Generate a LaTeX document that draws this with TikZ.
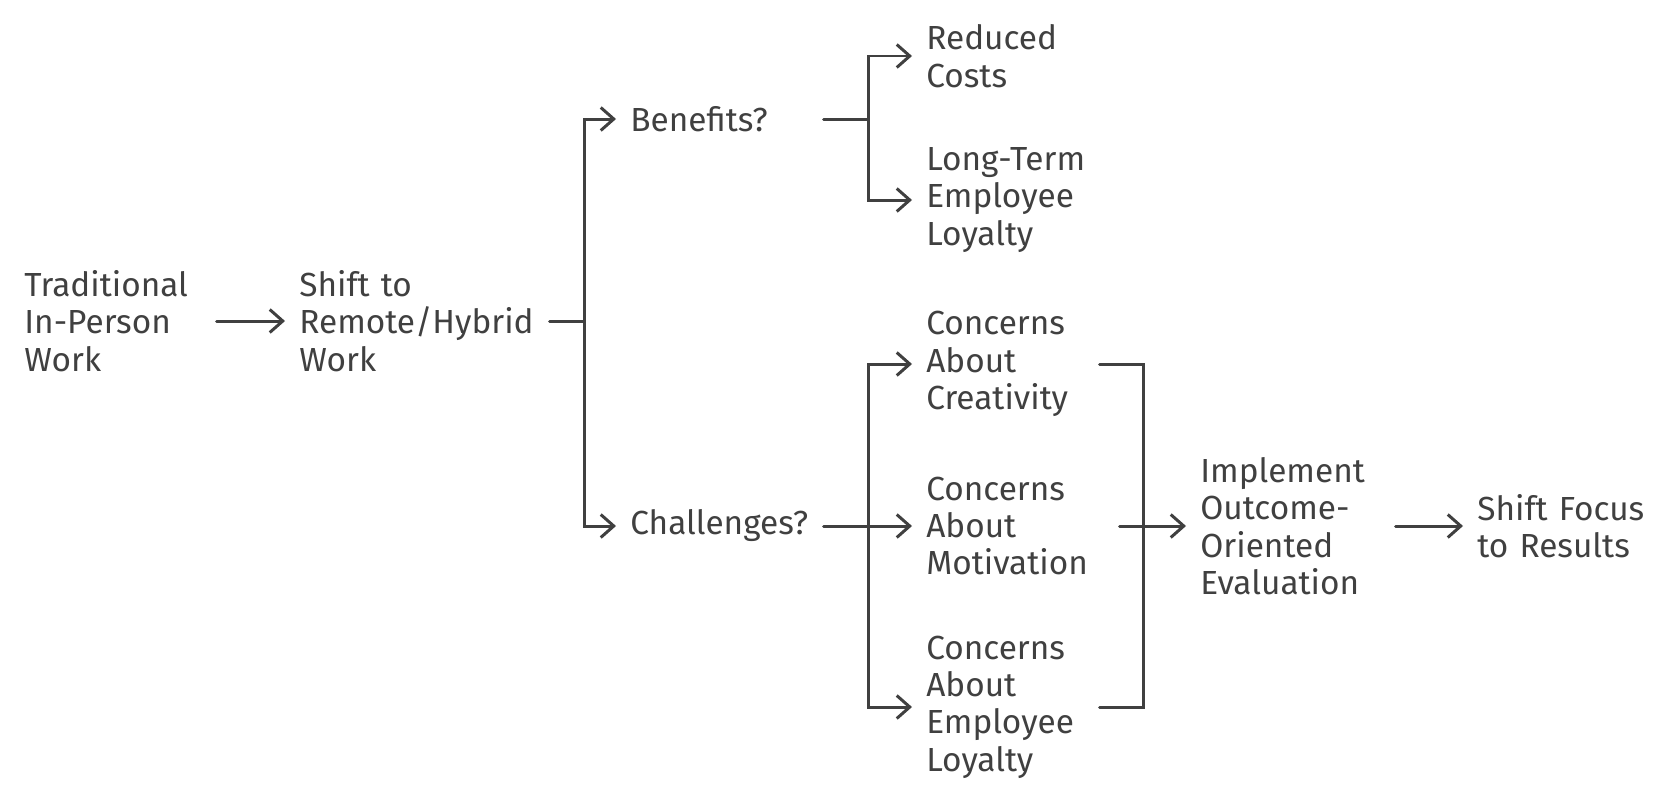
\documentclass[tikz,border=0pt]{standalone}
\usepackage{fontspec}
\setmainfont{Fira Sans}
\usetikzlibrary{arrows.meta}
\definecolor{inkgray}{HTML}{404040}
\tikzset{
  item/.style={anchor=west, align=left, inner xsep=0.28cm, inner ysep=0pt,
    text=inkgray, font=\fontsize{19}{21.3}\selectfont},
  link/.style={draw=inkgray, line width=1.7pt, line cap=round},
  flow/.style={link, -{Straight Barb[length=0.26cm, width=0.46cm, line width=1.7pt]}},
}

\begin{document}
\begin{tikzpicture}[x=0.02cm, y=-0.02cm]
    \useasboundingbox (0,0) rectangle (1680,802);
    % first column
    \node[item, text width=3.56cm] (trad) at (10,321) {Traditional\\In-Person\\Work};
    \node[item, text width=4.72cm] (shift) at (285,321) {Shift to\\Remote/Hybrid\\Work};
    \node[item, text width=3.58cm] (ben) at (616,119) {Benefits?};
    \node[item, text width=3.58cm] (chal) at (616,526) {Challenges?};
    % outcomes
    \node[item, text width=3.6cm] (red) at (912,56) {Reduced\\Costs};
    \node[item, text width=3.6cm] (long) at (912,200) {Long-Term\\Employee\\Loyalty};
    \node[item, text width=3.18cm] (cre) at (912,364) {Concerns\\About\\Creativity};
    \node[item, text width=3.58cm] (mot) at (912,526) {Concerns\\About\\Motivation};
    \node[item, text width=3.18cm] (loy) at (912,707) {Concerns\\About\\Employee\\Loyalty};
    \node[item, text width=3.62cm] (impl) at (1186,526) {Implement\\Outcome-\\Oriented\\Evaluation};
    \node[item, text width=3.6cm] (focus) at (1463,526) {Shift Focus\\to Results};
    % junctions
    \coordinate (jshift) at (584,321);
    \coordinate (jben) at (868,119);
    \coordinate (jchal) at (868,526);
    \coordinate (brk) at (1143,526);
    \draw[flow] (trad.east) -- (shift.west);
    \draw[flow] (shift.east) -- (jshift) |- (ben.west);
    \draw[flow] (jshift) |- (chal.west);
    \draw[link] (ben.east) -- (jben);
    \draw[flow] (jben) |- (red.west);
    \draw[flow] (jben) |- (long.west);
    \draw[flow] (chal.east) -- (mot.west);
    \draw[flow] (jchal) |- (cre.west);
    \draw[flow] (jchal) |- (loy.west);
    \draw[link] (cre.east) -| (brk) |- (loy.east);
    \draw[flow] (mot.east) -- (impl.west);
    \draw[flow] (impl.east) -- (focus.west);
\end{tikzpicture}
\end{document}
